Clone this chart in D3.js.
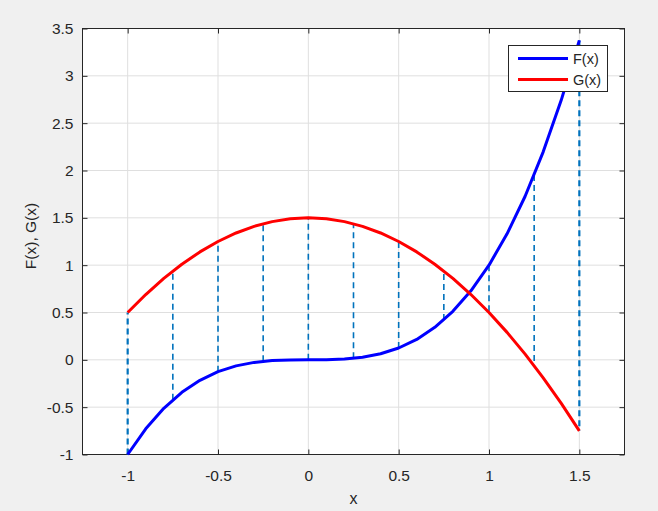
<!DOCTYPE html>
<html>
<head>
<meta charset="utf-8">
<script src="https://d3js.org/d3.v7.min.js"></script>
<style>
  body { margin: 0; background: #f0f0f0; }
  text { font-family: "Liberation Sans", Arial, sans-serif; fill: #262626; }
</style>
</head>
<body>
<svg id="chart" width="658" height="511"></svg>
<script>
// sample points of the two curves
const xs = [-1, -0.9, -0.8, -0.7, -0.6, -0.5, -0.4, -0.3, -0.2, -0.1, 0, 0.1, 0.2, 0.3, 0.4, 0.5, 0.6, 0.7, 0.8, 0.9, 1, 1.1, 1.2, 1.3, 1.4, 1.5];
const fVals = [-1, -0.729, -0.512, -0.343, -0.216, -0.125, -0.064, -0.027, -0.008, -0.001, 0, 0.001, 0.008, 0.027, 0.064, 0.125, 0.216, 0.343, 0.512, 0.729, 1, 1.331, 1.728, 2.197, 2.744, 3.375];
const gVals = [0.5, 0.69, 0.86, 1.01, 1.14, 1.25, 1.34, 1.41, 1.46, 1.49, 1.5, 1.49, 1.46, 1.41, 1.34, 1.25, 1.14, 1.01, 0.86, 0.69, 0.5, 0.29, 0.06, -0.19, -0.46, -0.75];

// dashed connectors
const stemX = [-1, -0.75, -0.5, -0.25, 0, 0.25, 0.5, 0.75, 1, 1.25, 1.5];
const stemF = [-1, -0.421875, -0.125, -0.015625, 0, 0.015625, 0.125, 0.421875, 1, 1.953125, 3.375];
const stemG = [0.5, 0.9375, 1.25, 1.4375, 1.5, 1.4375, 1.25, 0.9375, 0.5, -0.0625, -0.75];

const xTicks = [-1, -0.5, 0, 0.5, 1, 1.5];
const yTicks = [-1, -0.5, 0, 0.5, 1, 1.5, 2, 2.5, 3, 3.5];
const seriesNames = ['F(x)', 'G(x)'];
const seriesColors = ['#0000ff', '#ff0000'];

const L = 82.5, T = 28.5, R = 624.5, B = 454.5;
const svg = d3.select('#chart');

const x = d3.scaleLinear().domain([-1.25, 1.75]).range([L, R]);
const y = d3.scaleLinear().domain([-1, 3.5]).range([B, T]);

svg.append('rect').attr('x', L).attr('y', T).attr('width', R - L).attr('height', B - T).attr('fill', '#fff');

// grid
const grid = svg.append('g').attr('stroke', '#dfdfdf').attr('stroke-width', 1);
xTicks.forEach(function(t){
  grid.append('line').attr('x1', x(t)).attr('x2', x(t)).attr('y1', T).attr('y2', B);
});
yTicks.forEach(function(t){
  grid.append('line').attr('x1', L).attr('x2', R).attr('y1', y(t)).attr('y2', y(t));
});

// axes (ticks inward), plain hyphen minus like the original
const fmt = d => String(d);
svg.append('g').attr('transform', `translate(0,${B})`)
  .call(d3.axisBottom(x).tickValues(xTicks).tickSizeInner(-5).tickSizeOuter(0).tickPadding(15).tickFormat(fmt));
svg.append('g').attr('transform', `translate(0,${T})`)
  .call(d3.axisTop(x).tickValues(xTicks).tickSizeInner(-5).tickSizeOuter(0).tickFormat(''));
svg.append('g').attr('transform', `translate(${L},0)`)
  .call(d3.axisLeft(y).tickValues(yTicks).tickSizeInner(-5).tickSizeOuter(0).tickPadding(9).tickFormat(fmt));
svg.append('g').attr('transform', `translate(${R},0)`)
  .call(d3.axisRight(y).tickValues(yTicks).tickSizeInner(-5).tickSizeOuter(0).tickFormat(''));
svg.selectAll('.domain').remove();
svg.selectAll('.tick line').attr('stroke', '#262626');
svg.selectAll('.tick text').attr('font-size', 15.5).attr('fill', '#262626')
  .attr('font-family', '"Liberation Sans", Arial, sans-serif');
svg.append('rect').attr('x', L).attr('y', T).attr('width', R - L).attr('height', B - T)
  .attr('fill', 'none').attr('stroke', '#262626').attr('stroke-width', 1);

// stems
svg.append('g').selectAll('line').data(stemX).enter().append('line')
  .attr('x1', d => x(d)).attr('x2', d => x(d))
  .attr('y1', (d, i) => y(stemF[i])).attr('y2', (d, i) => y(stemG[i]))
  .attr('stroke', '#0072bd')
  .attr('stroke-width', (d, i) => (i === 0 || i === stemX.length - 1) ? 2.2 : 1.6)
  .attr('stroke-dasharray', '6,4');

// curves
const line = d3.line().x(d => x(d[0])).y(d => y(d[1]));
[fVals, gVals].forEach(function(vals, k){
  svg.append('path')
    .datum(xs.map((v, i) => [v, vals[i]]))
    .attr('d', line)
    .attr('fill', 'none')
    .attr('stroke', seriesColors[k])
    .attr('stroke-width', 3)
    .attr('stroke-linejoin', 'round');
});

// labels
svg.append('text').attr('x', (L + R) / 2).attr('y', 504).attr('text-anchor', 'middle')
  .attr('font-size', 16).text('x');
svg.append('text').attr('transform', 'translate(36,236) rotate(-90)')
  .attr('text-anchor', 'middle').attr('font-size', 15.5).text('F(x), G(x)');

// legend
const lg = svg.append('g');
lg.append('rect').attr('x', 508.5).attr('y', 45.5).attr('width', 99).attr('height', 46)
  .attr('fill', '#fff').attr('stroke', '#262626').attr('stroke-width', 1);
seriesNames.forEach(function(name, i){
  const yy = 58.5 + i * 21;
  lg.append('line').attr('x1', 518).attr('x2', 568).attr('y1', yy).attr('y2', yy)
    .attr('stroke', seriesColors[i]).attr('stroke-width', 3);
  lg.append('text').attr('x', 573).attr('y', yy + 5).attr('font-size', 14.5).text(name);
});
</script>
</body>
</html>
